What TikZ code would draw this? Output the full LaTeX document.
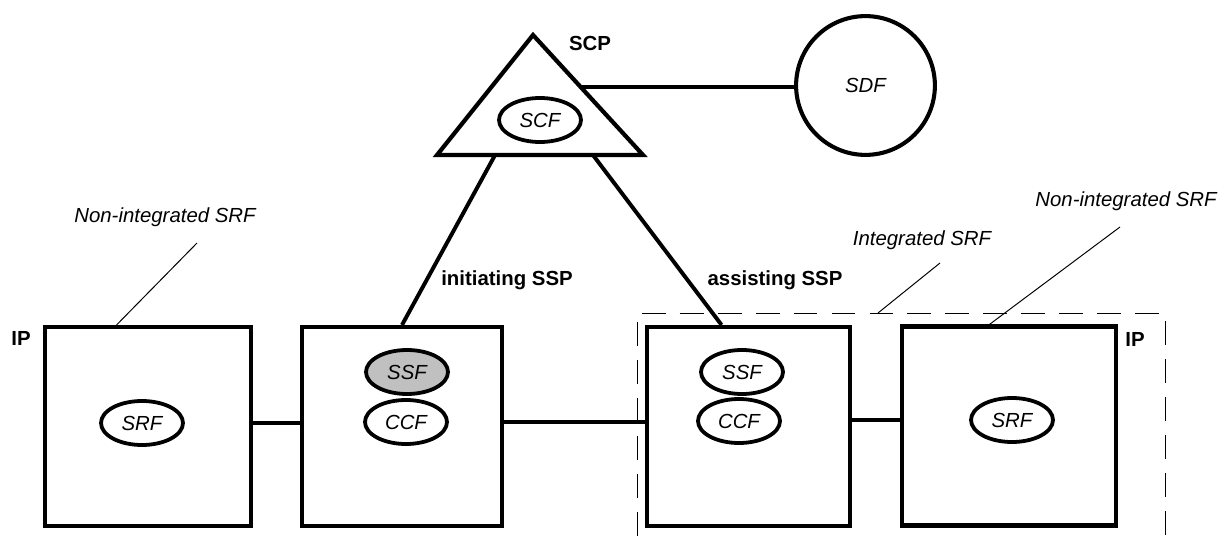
\documentclass[tikz,border=0pt]{standalone}
\usepackage{fontspec}
\setmainfont{Liberation Sans}
\usetikzlibrary{shapes.geometric,calc,positioning}
\definecolor{ssfgray}{RGB}{192,192,192}

\begin{document}
\begin{tikzpicture}[
    x=0.25cm,y=-0.25cm,
    unit/.style={draw,line width=3pt,minimum height=4.97cm},
    func/.style={draw,ellipse,line width=2.7pt,minimum width=2.05cm,minimum height=1.1cm,inner sep=0pt,font=\fontsize{14.5}{17}\selectfont\itshape},
    tag/.style={font=\fontsize{14.5}{17}\selectfont\bfseries},
    note/.style={font=\fontsize{14.5}{17}\selectfont\itshape},
    leader/.style={line width=0.7pt},
    link/.style={line width=2.8pt}
]
\useasboundingbox (0,0) rectangle (121.9,53.6);

% control point
\coordinate (top) at (53.3,3.5);
\coordinate (bl) at (43.7,15.5);
\coordinate (br) at (64.3,15.5);
\draw[line width=3pt,line join=miter] (top) -- (br) -- (bl) -- cycle;
\node[func] (scf) at (54.0,12.0) {SCF};
\node[tag] (scp) at (59.0,4.3) {SCP};
\node[draw,circle,line width=2.9pt,minimum size=3.47cm,font=\fontsize{14.5}{17}\selectfont\itshape] (sdf) at (86.55,8.55) {SDF};
\coordinate (scpR) at ($(top)!0.433!(br)$);
\draw[link] (scpR) -- (scpR -| sdf.west);

% physical units
\node[unit,minimum width=5.14cm] (ip1) at (14.8,42.65) {};
\node[unit,minimum width=5.0cm] (ssp1) at (40.2,42.65) {};
\node[unit,minimum width=5.07cm] (ssp2) at (74.85,42.65) {};
\node[unit,minimum width=5.34cm] (ip2) at (100.9,42.6) {};

\node[func] (srf1) at (14.2,42.3) {SRF};
\node[func,fill=ssfgray] (ssf1) at (40.7,37.2) {SSF};
\node[func] (ccf1) at (40.6,42.2) {CCF};
\node[func] (ssf2) at (74.2,37.2) {SSF};
\node[func] (ccf2) at (73.9,42.1) {CCF};
\node[func] (srf2) at (101.2,42.0) {SRF};

\node[tag] (ipA) at (2.1,33.8) {IP};
\node[tag] (ipB) at (113.5,33.9) {IP};
\node[tag] (init) at (50.7,28.0) {initiating SSP};
\node[tag] (assist) at (77.5,28.0) {assisting SSP};

% relations
\coordinate (scpA) at ($(bl)!0.282!(br)$);
\coordinate (scpB) at ($(bl)!0.757!(br)$);
\draw[link] (scpA) -- (ssp1.north);
\draw[link] (scpB) -- ($(ssp2.north west)!0.37!(ssp2.north east)$);
\draw[link] (srf1 -| ip1.east) -- (srf1 -| ssp1.west);
\draw[link] (ccf1 -| ssp1.east) -- (ccf1 -| ssp2.west);
\draw[link] (srf2 -| ssp2.east) -- (srf2 -| ip2.west);

% integrated SRF frame
\draw[line width=0.7pt,dash pattern=on 17pt off 10pt] (63.7,53.6) -- (63.7,31.3) -- (116.5,31.3) -- (116.5,53.6);

% notes
\node[note] (noteA) at (16.5,21.7) {Non-integrated SRF};
\node[note] (noteB) at (92.2,24.0) {Integrated SRF};
\node[note] (noteC) at (112.6,20.1) {Non-integrated SRF};
\coordinate (lnA) at (19.7,24.3);
\coordinate (lnB) at (94.0,26.3);
\coordinate (lnC) at (112.0,22.7);
\coordinate (frameTop) at (87.8,31.3);
\draw[leader] (lnA) -- ($(ip1.north west)!0.35!(ip1.north east)$);
\draw[leader] (lnB) -- (frameTop);
\draw[leader] (lnC) -- ($(ip2.north west)!0.41!(ip2.north east)$);
\end{tikzpicture}
\end{document}
